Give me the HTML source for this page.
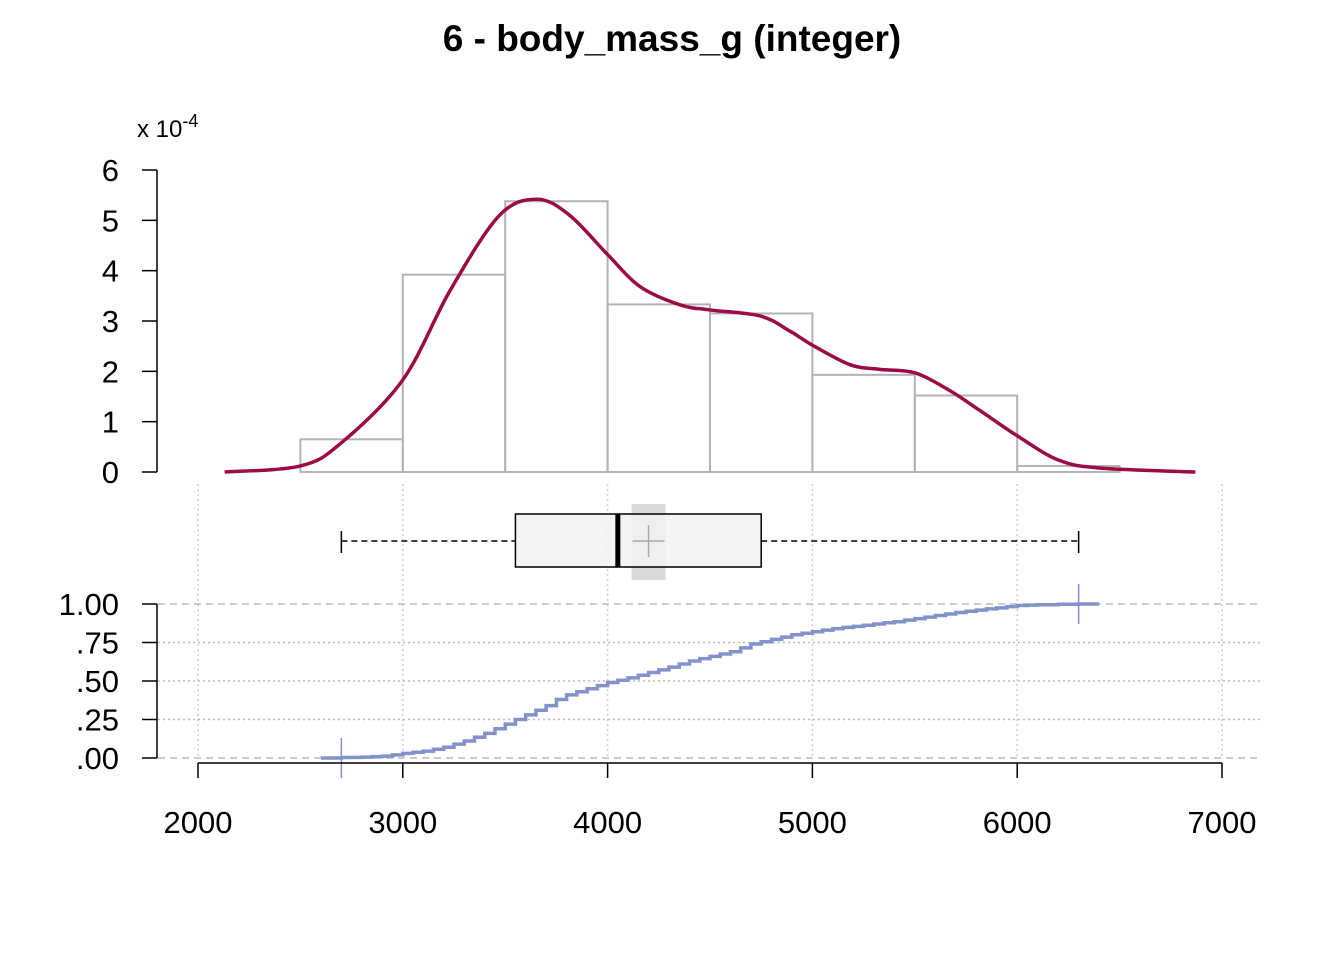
<!DOCTYPE html>
<html><head><meta charset="utf-8"><style>
body{margin:0;background:#fff}
svg{display:block;font-family:"Liberation Sans",Arial,sans-serif}
</style></head><body>
<svg id="c" width="1344" height="960" xmlns="http://www.w3.org/2000/svg">
<text x="672" y="51" text-anchor="middle" font-size="37" font-weight="bold">6 - body_mass_g (integer)</text>
<text x="137" y="137" font-size="24">x 10<tspan dy="-10" font-size="18">-4</tspan></text>
<g id="g"></g>
</svg>
<script>
const xTicks=[2000,3000,4000,5000,6000,7000];
const dTicks=[0,1,2,3,4,5,6];
const cTicks=[0,0.25,0.5,0.75,1];
const cLabels=[".00",".25",".50",".75","1.00"];
const binEdges=[2500,3000,3500,4000,4500,5000,5500,6000,6500];
const binHeights=[0.65,3.92,5.38,3.33,3.15,1.93,1.52,0.12];
const densX=[2130,2500,2700,3000,3230,3470,3655,3815,4000,4160,4355,4500,4745,4890,5000,5185,5330,5500,5670,5815,6000,6200,6400,6870];
const densY=[0,0.12,0.58,1.83,3.6,5.09,5.42,5.1,4.32,3.68,3.32,3.22,3.1,2.8,2.52,2.13,2.04,1.97,1.62,1.23,0.72,0.24,0.08,0];
const boxStats=[2700,3550,4050,4750,6300];
const meanVal=4200;
const cdfX=[2700,2750,2800,2850,2900,2950,3000,3050,3100,3150,3200,3250,3300,3350,3400,3450,3500,3550,3600,3650,3700,3750,3800,3850,3900,3950,4000,4050,4100,4150,4200,4250,4300,4350,4400,4450,4500,4550,4600,4650,4700,4750,4800,4850,4900,4950,5000,5050,5100,5150,5200,5250,5300,5350,5400,5450,5500,5550,5600,5650,5700,5750,5800,5850,5900,5950,6000,6050,6100,6200,6300];
const cdfY=[0.003,0.004,0.006,0.009,0.012,0.02,0.03,0.037,0.045,0.057,0.07,0.09,0.11,0.135,0.16,0.19,0.22,0.25,0.28,0.31,0.34,0.38,0.41,0.43,0.45,0.47,0.49,0.505,0.52,0.537,0.555,0.572,0.59,0.61,0.63,0.645,0.66,0.675,0.69,0.715,0.74,0.755,0.77,0.785,0.8,0.81,0.82,0.83,0.84,0.848,0.855,0.862,0.87,0.878,0.885,0.895,0.905,0.915,0.925,0.935,0.945,0.953,0.96,0.968,0.975,0.983,0.99,0.993,0.995,0.998,1.0];

const X=v=>198+(v-2000)*0.2048;
const YD=v=>472-v*50.33;
const YC=v=>758-v*154;
const g=document.getElementById('g');
const NS='http://www.w3.org/2000/svg';
function mk(t,a){const e=document.createElementNS(NS,t);for(const k in a)e.setAttribute(k,a[k]);g.appendChild(e);return e;}

xTicks.forEach(t=>{const e=mk('line',{x1:X(t),x2:X(t),y1:484,y2:758,stroke:'#ccc','stroke-width':1.5,'stroke-dasharray':'2,3'});

});
cTicks.forEach(t=>{const ends=t===0||t===1;const e=mk('line',{x1:158,x2:1262,y1:YC(t),y2:YC(t),stroke:'#bbb','stroke-width':1.5,'stroke-dasharray':ends?'7,5':'2,3'});

});

binHeights.forEach((h,i)=>{const e=mk('rect',{x:X(binEdges[i]),y:YD(h),width:X(binEdges[i+1])-X(binEdges[i]),height:YD(0)-YD(h),fill:'none',stroke:'#b3b3b3','stroke-width':2});

});

let d=densX.map((x,i)=>[X(x),YD(densY[i])]);
let p='M'+d[0];
for(let i=0;i<d.length-1;i++){const p0=d[Math.max(0,i-1)],p1=d[i],p2=d[i+1],p3=d[Math.min(d.length-1,i+2)];
p+=` C${p1[0]+(p2[0]-p0[0])/6},${p1[1]+(p2[1]-p0[1])/6} ${p2[0]-(p3[0]-p1[0])/6},${p2[1]-(p3[1]-p1[1])/6} ${p2[0]},${p2[1]}`;}
let e=mk('path',{d:p,fill:'none',stroke:'#9b0b45','stroke-width':3.5});



e=mk('line',{x1:157,x2:157,y1:YD(6),y2:YD(0),stroke:'#000','stroke-width':1.5});


dTicks.forEach(t=>{mk('line',{x1:142,x2:157,y1:YD(t),y2:YD(t),stroke:'#000','stroke-width':1.5});
const l=mk('text',{x:119,y:YD(t)+11,'text-anchor':'end','font-size':31});l.textContent=t;

});

const [wl,q1,md,q3,wh]=boxStats;
e=mk('rect',{x:X(meanVal)-17,y:504,width:34,height:76,fill:'#d9d9d9'});


[[wl,q1],[q3,wh]].forEach(s=>mk('line',{x1:X(s[0]),x2:X(s[1]),y1:541,y2:541,stroke:'#000','stroke-width':1.5,'stroke-dasharray':'6,4'}));
[wl,wh].forEach(v=>mk('line',{x1:X(v),x2:X(v),y1:531,y2:553,stroke:'#000','stroke-width':1.5}));
e=mk('rect',{x:X(q1),y:514,width:X(q3)-X(q1),height:53,fill:'#f2f2f2','fill-opacity':0.85,stroke:'#000','stroke-width':1.5});


e=mk('line',{x1:X(md),x2:X(md),y1:514,y2:567,stroke:'#000','stroke-width':5});


mk('line',{x1:X(meanVal)-16,x2:X(meanVal)+16,y1:541,y2:541,stroke:'#aaa','stroke-width':1.5});
mk('line',{x1:X(meanVal),x2:X(meanVal),y1:525,y2:557,stroke:'#aaa','stroke-width':1.5});

let s=`M${X(cdfX[0]-100)},${YC(0)} H${X(cdfX[0])}`;
cdfX.forEach((x,i)=>{s+=` V${YC(cdfY[i])}`;if(i<cdfX.length-1)s+=` H${X(cdfX[i+1])}`;});
s+=` H${X(cdfX[cdfX.length-1]+100)}`;
e=mk('path',{d:s,fill:'none',stroke:'#8393c9','stroke-width':3.5});


[[wl,0],[wh,1]].forEach(q=>mk('line',{x1:X(q[0]),x2:X(q[0]),y1:YC(q[1])-20,y2:YC(q[1])+20,stroke:'#8393c9','stroke-width':1.5}));
e=mk('line',{x1:157,x2:157,y1:YC(1),y2:YC(0),stroke:'#000','stroke-width':1.5});


cTicks.forEach((t,i)=>{mk('line',{x1:142,x2:157,y1:YC(t),y2:YC(t),stroke:'#000','stroke-width':1.5});
const l=mk('text',{x:119,y:YC(t)+11,'text-anchor':'end','font-size':31});l.textContent=cLabels[i];

});

e=mk('line',{x1:X(2000),x2:X(7000),y1:763,y2:763,stroke:'#000','stroke-width':1.5});


xTicks.forEach(t=>{mk('line',{x1:X(t),x2:X(t),y1:763,y2:778,stroke:'#000','stroke-width':1.5});
const l=mk('text',{x:X(t),y:833,'text-anchor':'middle','font-size':31});l.textContent=t;

});
</script>
</body></html>
